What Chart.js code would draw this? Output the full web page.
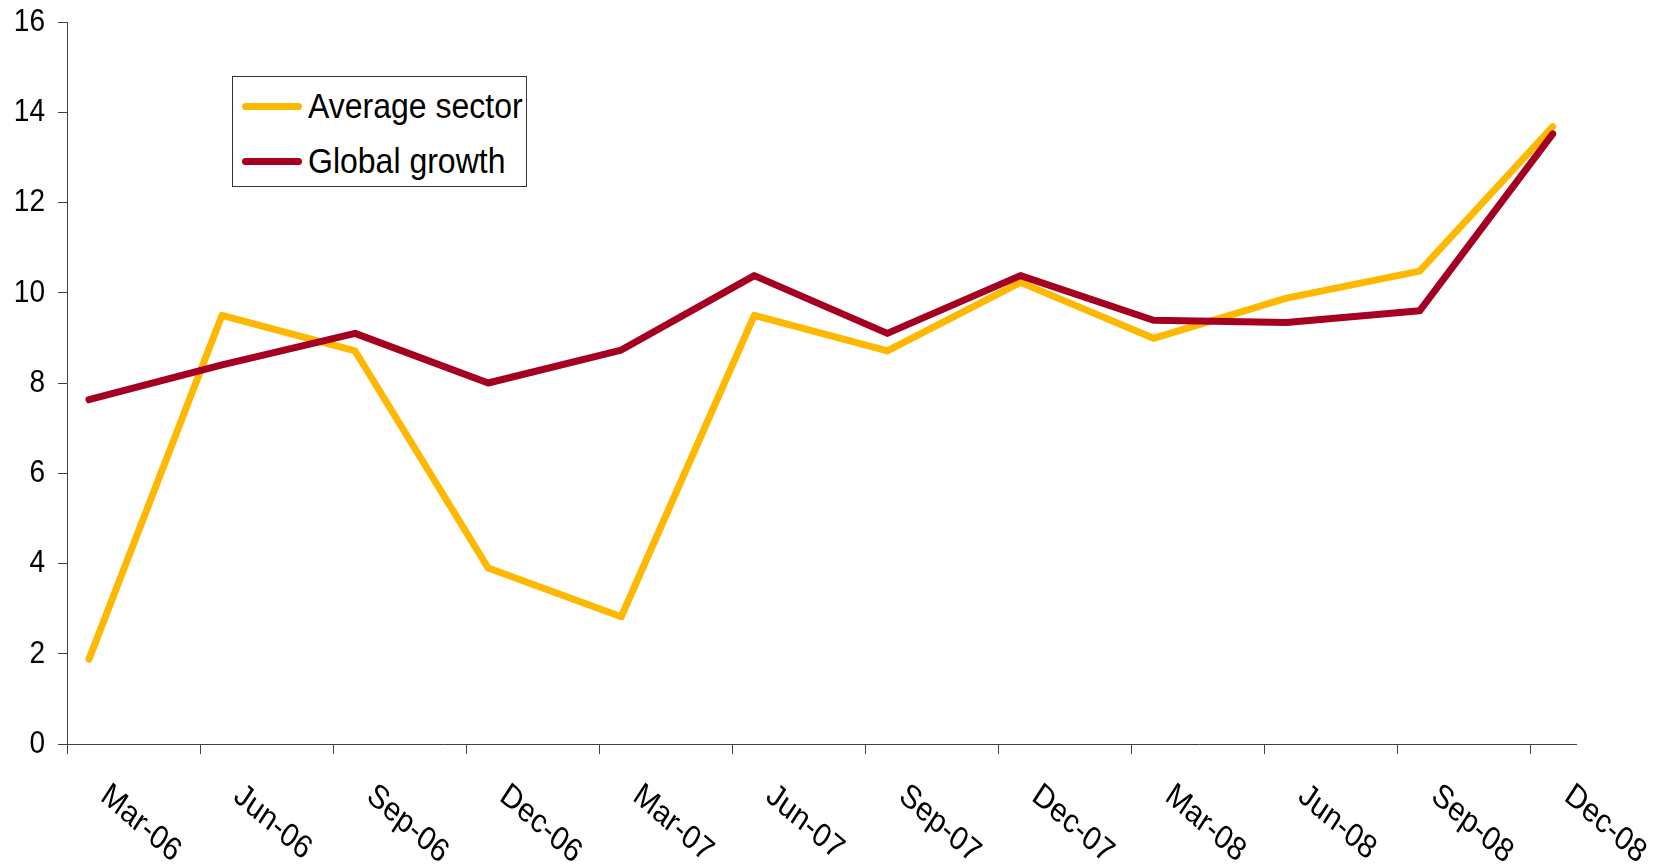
<!DOCTYPE html>
<html>
<head>
<meta charset="utf-8">
<script src="https://cdn.jsdelivr.net/npm/chart.js@4/dist/chart.umd.min.js"></script>
<style>
  body { margin: 0; background: #fff; }
  #wrap { position: relative; width: 1661px; height: 864px; }
  #legend {
    position: absolute; left: 232px; top: 76px; width: 293px; height: 109px;
    border: 1px solid #333; background: #fff;
    font-family: "Liberation Sans", Arial, sans-serif; font-size: 32px; color: #000;
  }
  .item { position: absolute; left: 9px; height: 40px; display: flex; align-items: center; }
  .swatch { width: 60px; height: 7px; border-radius: 4px; margin-right: 6px; }
  .txt { display: inline-block; transform: scaleY(1.12); }
</style>
</head>
<body>
<div id="wrap">
  <canvas id="chart" width="1661" height="864"></canvas>
  <div id="legend">
    <div class="item" style="top: 9px;"><span class="swatch" style="background:#FFB800"></span><span class="txt">Average sector</span></div>
    <div class="item" style="top: 64px;"><span class="swatch" style="background:#A50021"></span><span class="txt">Global growth</span></div>
  </div>
</div>
<script>
const quarters = ['Mar-06', 'Jun-06', 'Sep-06', 'Dec-06', 'Mar-07', 'Jun-07',
                  'Sep-07', 'Dec-07', 'Mar-08', 'Jun-08', 'Sep-08', 'Dec-08'];
const averageSector = [1.88, 9.5, 8.71, 3.9, 2.82, 9.5, 8.71, 10.23, 8.99, 9.88, 10.48, 13.68];
const globalGrowth = [7.63, 8.4, 9.1, 8.0, 8.73, 10.38, 9.1, 10.38, 9.39, 9.34, 9.6, 13.52];
const yTicks = [0, 2, 4, 6, 8, 10, 12, 14, 16];

// points sit a bit right of each tick mark, like the excel date axis
const shift = 0.165;
const toPoints = (arr) => arr.map((v, i) => ({ x: i + shift, y: v }));

const fontFamily = '"Liberation Sans", Arial, sans-serif';
const stretch = 1.15; // text in the original looks a bit tall

// axis labels drawn by hand so they can be stretched / rotated clockwise
const axisLabels = {
  id: 'axisLabels',
  afterDraw(chart) {
    const ctx = chart.ctx;
    const xs = chart.scales.x;
    const ys = chart.scales.y;
    ctx.save();
    ctx.fillStyle = '#000';

    ctx.font = '28px ' + fontFamily;
    ctx.textAlign = 'right';
    ctx.textBaseline = 'middle';
    yTicks.forEach(v => {
      ctx.save();
      ctx.translate(ys.left + ys.width - 9 - 13, ys.getPixelForValue(v));
      ctx.scale(1, stretch);
      ctx.fillText(String(v), 0, 0);
      ctx.restore();
    });

    ctx.font = '29px ' + fontFamily;
    ctx.textAlign = 'left';
    quarters.forEach((q, i) => {
      const px = xs.getPixelForValue(i + shift);
      ctx.save();
      ctx.translate(px + 15, 792);
      ctx.scale(1, stretch);
      ctx.rotate(37 * Math.PI / 180);
      ctx.fillText(q, 0, 0);
      ctx.restore();
    });
    ctx.restore();
  }
};

new Chart(document.getElementById('chart'), {
  type: 'line',
  data: {
    datasets: [
      {
        label: 'Average sector',
        data: toPoints(averageSector),
        borderColor: '#FFB800',
        borderWidth: 7,
        borderCapStyle: 'round',
        borderJoinStyle: 'round',
        pointRadius: 0,
        tension: 0,
        order: 2,
      },
      {
        label: 'Global growth',
        data: toPoints(globalGrowth),
        borderColor: '#A50021',
        borderWidth: 7,
        borderCapStyle: 'round',
        borderJoinStyle: 'round',
        pointRadius: 0,
        tension: 0,
        order: 1,
      },
    ],
  },
  options: {
    responsive: false,
    animation: false,
    layout: { padding: { top: 22, right: 85, left: 0, bottom: 0 } },
    plugins: { legend: { display: false }, tooltip: { enabled: false } },
    scales: {
      x: {
        type: 'linear',
        min: 0,
        max: 11.34,
        afterBuildTicks: (scale) => { scale.ticks = quarters.map((q, i) => ({ value: i })); },
        afterFit: (scale) => { scale.height = 120; },
        ticks: { display: false },
        grid: { drawOnChartArea: false, drawTicks: true, tickLength: 10, color: '#404040', lineWidth: 1 },
        border: { display: true, color: '#404040', width: 1 },
      },
      y: {
        min: 0,
        max: 16,
        afterBuildTicks: (scale) => { scale.ticks = yTicks.map(v => ({ value: v })); },
        afterFit: (scale) => { scale.width = 67; },
        ticks: { display: false },
        grid: { drawOnChartArea: false, drawTicks: true, tickLength: 9, color: '#404040', lineWidth: 1 },
        border: { display: true, color: '#404040', width: 1 },
      },
    },
  },
  plugins: [axisLabels],
});
</script>
</body>
</html>
